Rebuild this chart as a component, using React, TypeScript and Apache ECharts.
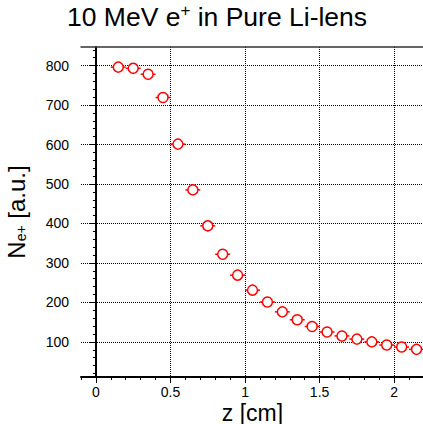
import React, { useEffect, useRef } from "react";
import * as echarts from "echarts";

const zValues = [0.15, 0.25, 0.35, 0.45, 0.55, 0.65, 0.75, 0.85, 0.95, 1.05, 1.15, 1.25, 1.35, 1.45, 1.55, 1.65, 1.75, 1.85, 1.95, 2.05, 2.15];
const nValues = [796, 793, 778, 719, 601, 485, 394, 322, 269, 231, 201, 176, 156, 139, 125, 115, 107, 100, 92, 87, 81];
const zHalfWidth = [0.05, 0.05, 0.05, 0.05, 0.05, 0.05, 0.05, 0.05, 0.05, 0.05, 0.05, 0.05, 0.05, 0.05, 0.05, 0.05, 0.05, 0.05, 0.05, 0.05, 0.05];
const xMajorTicks = [0, 0.5, 1, 1.5, 2];
const xMinorTicks = [-0.1, 0.1, 0.2, 0.3, 0.4, 0.6, 0.7, 0.8, 0.9, 1.1, 1.2, 1.3, 1.4, 1.6, 1.7, 1.8, 1.9, 2.1, 2.2];
const yMajorTicks = [100, 200, 300, 400, 500, 600, 700, 800];
const yMinorTicks = [20, 40, 60, 80, 120, 140, 160, 180, 220, 240, 260, 280, 320, 340, 360, 380, 420, 440, 460, 480, 520, 540, 560, 580, 620, 640, 660, 680, 720, 740, 760, 780, 820, 840];

const FONT = "'Liberation Sans', Arial, Helvetica, sans-serif";
const X_MIN = -0.1, X_MAX = 2.2, Y_MIN = 11, Y_MAX = 847;

export default function App() {
  const ref = useRef<HTMLDivElement>(null);
  useEffect(() => {
    if (!ref.current) return;
    const chart = echarts.init(ref.current, null, { renderer: "svg" });
    const points = zValues.map((z, i) => [z, nValues[i], zHalfWidth[i]]);
    const common = { min: X_MIN, max: X_MAX, type: "value" as const };
    const ycommon = { min: Y_MIN, max: Y_MAX, type: "value" as const };
    const dotted = { color: "#000", type: "dotted" as const, width: 1, opacity: 1 };
    chart.setOption({
      animation: false,
      backgroundColor: "#fff",
      title: {
        text: "10 MeV e{sup|+} in Pure Li-lens",
        left: 67,
        top: 2,
        padding: 0,
        textStyle: {
          fontFamily: FONT,
          fontSize: 26.5,
          fontWeight: "normal",
          color: "#000",
          rich: {
            sup: { fontFamily: FONT, fontSize: 17, color: "#000", padding: [0, 0, 13, 0] },
          },
        },
      },
      grid: { left: 81, top: 47, width: 343, height: 330, containLabel: false, outerBoundsMode: "none" },
      xAxis: [
        {
          ...common,
          position: "bottom",
          name: "z [cm]",
          nameLocation: "middle",
          nameGap: 24,
          nameMoveOverlap: false,
          nameTextStyle: { fontFamily: FONT, fontSize: 23, color: "#000" },
          axisLine: { show: true, lineStyle: { color: "#000", width: 2 } },
          axisTick: { show: true, customValues: xMajorTicks, length: 6, lineStyle: { color: "#000", width: 1 } },
          axisLabel: { customValues: xMajorTicks, fontFamily: FONT, fontSize: 14, color: "#000", margin: 8 },
          splitLine: { show: true, lineStyle: dotted },
        },
        {
          ...common,
          position: "bottom",
          axisLine: { show: false },
          axisTick: { show: true, customValues: xMinorTicks, length: 3, lineStyle: { color: "#000", width: 1 } },
          axisLabel: { show: false },
          splitLine: { show: false },
        },
        {
          ...common,
          position: "top",
          axisLine: { show: true, lineStyle: { color: "#333", width: 1.5 } },
          axisTick: { show: false },
          axisLabel: { show: false },
          splitLine: { show: false },
        },
      ],
      yAxis: [
        {
          ...ycommon,
          position: "left",
          name: "N{sub|e+} [a.u.]",
          nameLocation: "middle",
          nameGap: 53,
          nameMoveOverlap: false,
          nameTextStyle: {
            fontFamily: FONT,
            fontSize: 24,
            color: "#000",
            rich: { sub: { fontFamily: FONT, fontSize: 14, color: "#000", padding: [10, 0, 0, 0] } },
          },
          axisLine: { show: true, lineStyle: { color: "#000", width: 2 } },
          axisTick: { show: true, customValues: yMajorTicks, length: 6, lineStyle: { color: "#000", width: 1 } },
          axisLabel: { customValues: yMajorTicks, fontFamily: FONT, fontSize: 14, color: "#000", margin: 12 },
          splitLine: { show: true, lineStyle: dotted },
        },
        {
          ...ycommon,
          position: "left",
          axisLine: { show: false },
          axisTick: { show: true, customValues: yMinorTicks, length: 3, lineStyle: { color: "#000", width: 1 } },
          axisLabel: { show: false },
          splitLine: { show: false },
        },
      ],
      series: [
        {
          type: "custom",
          xAxisIndex: 0,
          yAxisIndex: 0,
          z: 2,
          data: points,
          renderItem: (params: any, api: any) => {
            const x = api.value(0), y = api.value(1), h = api.value(2);
            const p1 = api.coord([x - h, y]);
            const p2 = api.coord([x + h, y]);
            return {
              type: "line",
              shape: { x1: p1[0], y1: p1[1], x2: p2[0], y2: p2[1] },
              style: { stroke: "#ff0000", lineWidth: 1.5 },
            };
          },
        },
        {
          type: "scatter",
          xAxisIndex: 0,
          yAxisIndex: 0,
          z: 3,
          data: points.map((p) => [p[0], p[1]]),
          symbol: "circle",
          symbolSize: 10,
          itemStyle: { color: "#fff", borderColor: "#ff0000", borderWidth: 1.5, opacity: 1 },
        },
      ],
    });
    return () => chart.dispose();
  }, []);
  return <div ref={ref} style={{ position: "fixed", left: 0, top: 0, width: 423, height: 424 }} />;
}
